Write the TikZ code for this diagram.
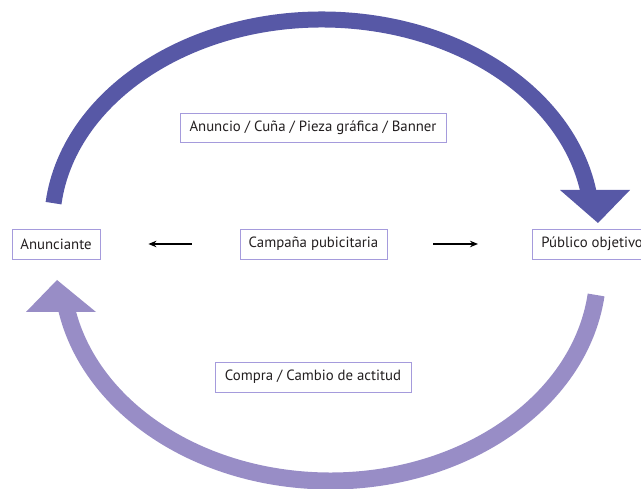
\documentclass[tikz,border=0pt]{standalone}
\usepackage{fontspec}
\setmainfont{PT Sans}
\usetikzlibrary{arrows.meta}
\definecolor{topc}{RGB}{87,88,166}
\definecolor{botc}{RGB}{152,141,198}
\definecolor{boxc}{RGB}{165,155,220}
\definecolor{txtc}{RGB}{35,31,32}
\tikzset{
  lbl/.style={draw=boxc, line width=0.8pt, fill=white, text=txtc, font=\fontsize{14.8}{17}\selectfont, inner sep=0pt, minimum height=30pt},
  flow/.style={line width=1.3pt, -{Stealth[length=8pt,width=6.5pt,inset=2.5pt]}},
}
\begin{document}
\begin{tikzpicture}[x=1pt,y=1pt]
\useasboundingbox (0,0) rectangle (641,489);
% top arc
\draw[topc, line width=16pt] (322,264) ++(173.9:270 and 205.5) arc[start angle=173.9, end angle=8.3, x radius=270, y radius=205.5];
\fill[topc] (560,299) -- (630,299) -- (598,266) -- cycle;
% bottom arc
\draw[botc, line width=17pt] (330,219) ++(-6.8:268 and 211) arc[start angle=-6.8, end angle=-170, x radius=268, y radius=211];
\fill[botc] (26,177) -- (96,177) -- (57,209) -- cycle;
% nodes
\node[lbl, minimum width=88pt] (anun) at (56,245) {Anunciante};
\node[lbl, minimum width=147pt] (camp) at (313.5,245) {Campaña pubicitaria};
\node[lbl, anchor=west, minimum width=118pt, inner xsep=9pt, align=left] (pub) at (532,245) {Público objetivo};
\node[lbl, minimum width=266pt, minimum height=29pt] (anuncio) at (313,361.5) {Anuncio / Cuña / Pieza gráfica / Banner};
\node[lbl, minimum width=196pt] (compra) at (313,112) {Compra / Cambio de actitud};
% small arrows
\draw[flow, shorten <=48pt, shorten >=48pt] (camp.west) -- (anun.east);
\draw[flow, shorten <=46pt, shorten >=54pt] (camp.east) -- (pub.west);
\end{tikzpicture}
\end{document}
